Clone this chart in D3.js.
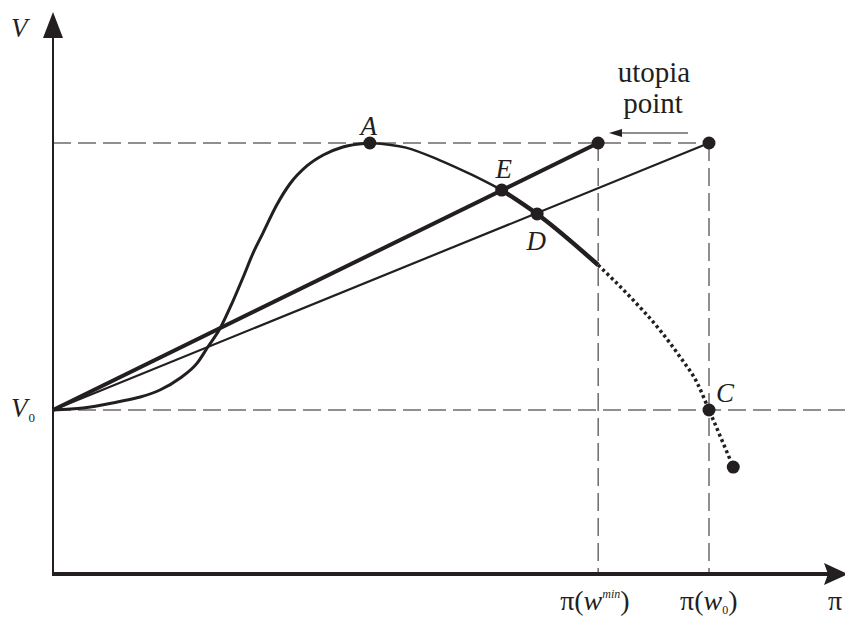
<!DOCTYPE html>
<meta charset="utf-8">
<style>
body { margin: 0; background: #fff; }
text { font-family: "Liberation Serif", "DejaVu Serif", serif; fill: #231f20; }
</style>
<body>
<script src="https://d3js.org/d3.v7.min.js"></script>
<script>

// data units: pi(w0) = 1 on x, V0 = 1 on y
var piMin = 0.831, piW0 = 1, V0 = 1, Vmax = 2.628;

// rising part of V(pi), up to A
var curveRise = [[0,1],[0.046,1.012],[0.098,1.049],[0.133,1.079],[0.163,1.122],[0.194,1.195],
                 [0.22,1.287],[0.236,1.384],[0.255,1.5],[0.273,1.652],[0.29,1.811],[0.305,1.957],
                 [0.32,2.079],[0.341,2.25],[0.361,2.378],[0.387,2.488],[0.412,2.555],[0.442,2.604],[0.483,2.628]];
// falling part, A to E
var curveFall = [[0.483,2.628],[0.538,2.6],[0.589,2.524],[0.639,2.433],[0.684,2.341]];
// E to the end of the feasible range
var curveBold = [[0.684,2.341],[0.738,2.195],[0.831,1.884]];
// beyond pi(w_min)
var curveDots = [[0.831,1.884],[0.88,1.689],[0.925,1.488],[0.956,1.323],[0.982,1.165],[1,1],[1.037,0.652]];

var points = [
  {name: "A", x: 0.483, y: 2.628, dx: -1, dy: -8},
  {name: "E", x: 0.684, y: 2.341, dx: 2, dy: -12},
  {name: "D", x: 0.738, y: 2.195, dx: -1, dy: 36},
  {name: "C", x: 1, y: 1, dx: 16, dy: -8}
];

var width = 845, height = 619;
var x = d3.scaleLinear().domain([0, 1]).range([53, 709]);
var y = d3.scaleLinear().domain([0, 1]).range([574, 410]);

var svg = d3.select("body").append("svg")
    .attr("width", width)
    .attr("height", height);

var ink = "#231f20";
var line = d3.line().x(function(d) { return x(d[0]); }).y(function(d) { return y(d[1]); }).curve(d3.curveMonotoneX);

// dashed guides
var dash = "18,7";
svg.append("line").attr("x1", x(0)).attr("x2", x(piW0)).attr("y1", y(Vmax)).attr("y2", y(Vmax))
    .attr("stroke", ink).attr("stroke-width", 1).attr("stroke-dasharray", dash);
svg.append("line").attr("x1", x(0)).attr("x2", width).attr("y1", y(V0)).attr("y2", y(V0))
    .attr("stroke", ink).attr("stroke-width", 1).attr("stroke-dasharray", dash);
[piMin, piW0].forEach(function(p) {
  svg.append("line").attr("x1", x(p)).attr("x2", x(p)).attr("y1", y(Vmax)).attr("y2", y(0))
      .attr("stroke", ink).attr("stroke-width", 1).attr("stroke-dasharray", dash);
});

// axes
svg.append("line").attr("x1", x(0)).attr("x2", x(0)).attr("y1", y(0) + 2).attr("y2", 30)
    .attr("stroke", ink).attr("stroke-width", 2);
svg.append("path").attr("d", "M" + x(0) + ",12L" + (x(0) - 10) + ",38L" + (x(0) + 10) + ",38Z").attr("fill", ink);
svg.append("line").attr("x1", x(0)).attr("x2", 828).attr("y1", y(0)).attr("y2", y(0))
    .attr("stroke", ink).attr("stroke-width", 4);
svg.append("path").attr("d", "M848," + y(0) + "L824," + (y(0) - 11) + "L828," + y(0) + "L824," + (y(0) + 11) + "Z").attr("fill", ink);

// rays from V0 to the two utopia points
svg.append("line").attr("x1", x(0)).attr("y1", y(V0)).attr("x2", x(piW0)).attr("y2", y(Vmax))
    .attr("stroke", ink).attr("stroke-width", 2.2);
svg.append("line").attr("x1", x(0)).attr("y1", y(V0)).attr("x2", x(piMin)).attr("y2", y(Vmax))
    .attr("stroke", ink).attr("stroke-width", 4);

// the curve
svg.append("path").attr("d", line(curveRise)).attr("fill", "none").attr("stroke", ink).attr("stroke-width", 3);
svg.append("path").attr("d", line(curveFall)).attr("fill", "none").attr("stroke", ink).attr("stroke-width", 2.5);
svg.append("path").attr("d", line(curveBold)).attr("fill", "none").attr("stroke", ink).attr("stroke-width", 4.5);
svg.append("path").attr("d", line(curveDots)).attr("fill", "none").attr("stroke", ink).attr("stroke-width", 3.5)
    .attr("stroke-dasharray", "3,3");

// dots
var dots = points.map(function(p) { return [p.x, p.y]; })
    .concat([[piMin, Vmax], [piW0, Vmax], curveDots[curveDots.length - 1]]);
svg.selectAll("circle").data(dots).enter().append("circle")
    .attr("cx", function(d) { return x(d[0]); })
    .attr("cy", function(d) { return y(d[1]); })
    .attr("r", 6.5).attr("fill", ink);

svg.selectAll("text.pt").data(points).enter().append("text")
    .attr("class", "pt")
    .attr("x", function(d) { return x(d.x) + d.dx; })
    .attr("y", function(d) { return y(d.y) + d.dy; })
    .attr("text-anchor", "middle").attr("font-style", "italic").attr("font-size", 27)
    .text(function(d) { return d.name; });

// utopia label and arrow
svg.append("text").attr("x", 654).attr("y", 82).attr("text-anchor", "middle").attr("font-size", 29).text("utopia");
svg.append("text").attr("x", 653).attr("y", 113).attr("text-anchor", "middle").attr("font-size", 29).text("point");
svg.append("line").attr("x1", 688).attr("x2", 618).attr("y1", 133).attr("y2", 133).attr("stroke", ink).attr("stroke-width", 1.2);
svg.append("path").attr("d", "M609,133L622,129L622,137Z").attr("fill", ink);

// axis labels
svg.append("text").attr("x", 11).attr("y", 37).attr("font-style", "italic").attr("font-size", 27).text("V");
var v0 = svg.append("text").attr("x", 11).attr("y", 417).attr("font-size", 27);
v0.append("tspan").attr("font-style", "italic").text("V");
v0.append("tspan").attr("font-size", 13).attr("dx", 1).attr("dy", 5).text("0");

var lab1 = svg.append("text").attr("x", x(piMin) - 38).attr("y", 610).attr("font-size", 28);
lab1.append("tspan").text("π(");
lab1.append("tspan").attr("font-style", "italic").text("w");
lab1.append("tspan").attr("font-style", "italic").attr("font-size", 12).attr("dy", -12).text("min");
lab1.append("tspan").attr("dy", 12).text(")");

var lab2 = svg.append("text").attr("x", x(piW0) - 29).attr("y", 610).attr("font-size", 28);
lab2.append("tspan").text("π(");
lab2.append("tspan").attr("font-style", "italic").text("w");
lab2.append("tspan").attr("font-size", 12).attr("dy", 4).text("0");
lab2.append("tspan").attr("dy", -4).text(")");

svg.append("text").attr("x", 828).attr("y", 610).attr("font-size", 28).text("π");

</script>
